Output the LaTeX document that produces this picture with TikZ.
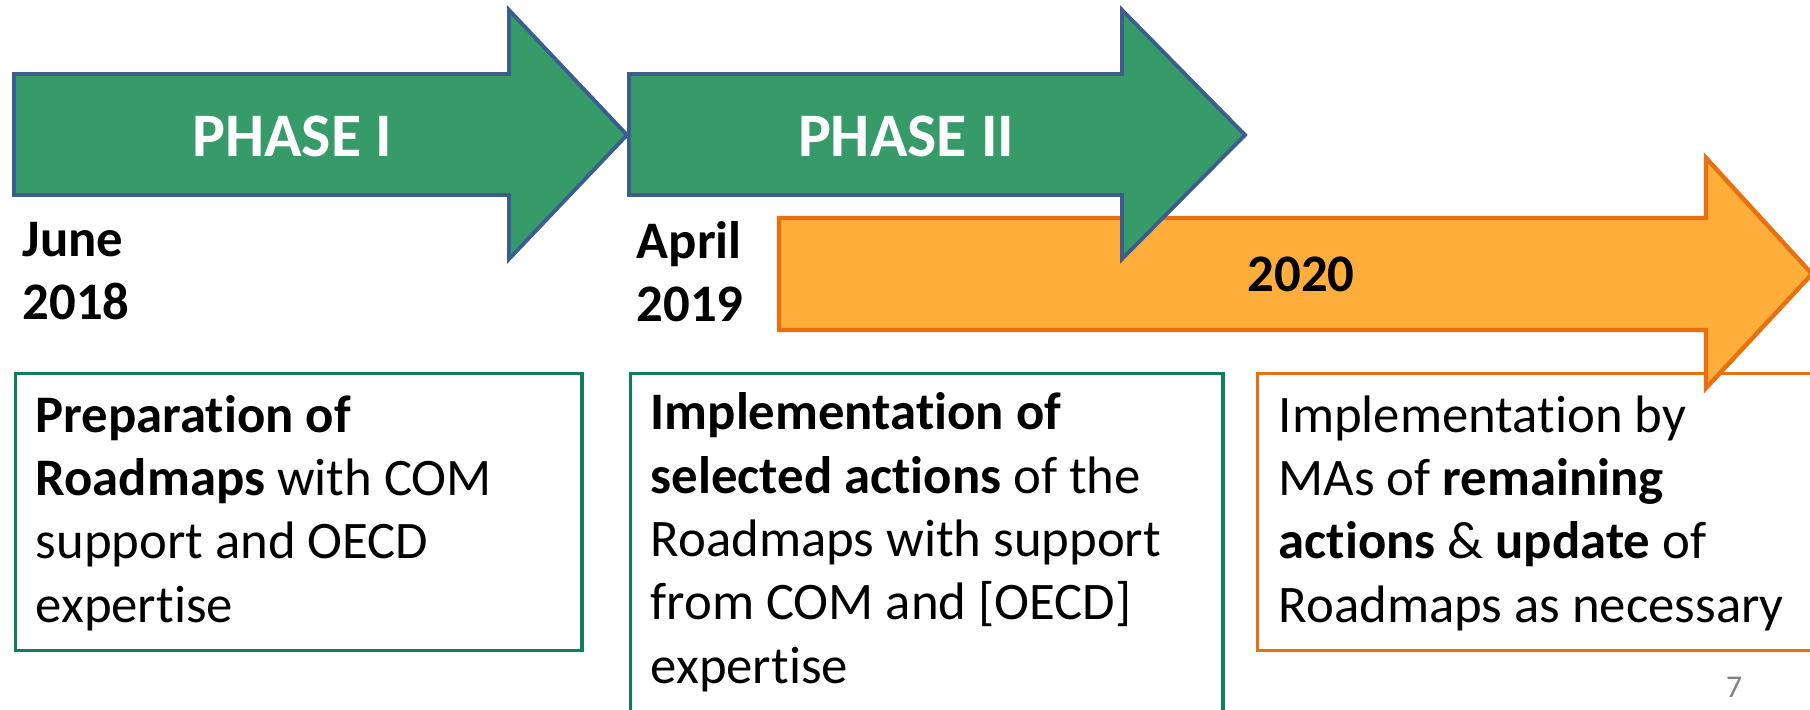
\documentclass[tikz,border=0pt]{standalone}
\usepackage{fontspec}
\setmainfont[Ligatures=NoCommon]{Carlito}
\usepackage{tikz}
\usetikzlibrary{positioning}
\definecolor{PhaseGreen}{RGB}{55,154,105}
\definecolor{PhaseBlue}{RGB}{58,95,143}
\definecolor{BoxGreen}{RGB}{14,127,90}
\definecolor{LaterOrange}{RGB}{232,112,15}
\definecolor{LaterFill}{RGB}{255,174,60}
\tikzset{
  every node/.style={
    font=\fontsize{15}{18}\selectfont,
    inner sep=0pt
  },
  phase arrow/.style={
    fill=PhaseGreen,
    draw=PhaseBlue,
    line width=1.1pt
  },
  later arrow/.style={
    fill=LaterFill,
    draw=LaterOrange,
    line width=1.25pt
  },
  phase label/.style={
    font=\fontsize{17.6}{21}\selectfont\bfseries,
    text=white,
    anchor=base
  },
  date/.style={
    font=\fontsize{15}{18}\selectfont\bfseries,
    align=left,
    anchor=base west
  },
  textbox/.style n args={2}{
    draw=#1,
    line width=0.9pt,
    anchor=north west,
    minimum width=#2,
    minimum height=2.77cm
  },
  boxtext/.style={
    align=left,
    anchor=base west
  }
}

\begin{document}
\begin{tikzpicture}[x=0.01cm,y=-0.01cm]
    \clip (0,0) rectangle (1810,710);
    \node [textbox={BoxGreen}{5.66cm}] (prep) at (14,372) {};
    \node [textbox={BoxGreen}{5.92cm}, minimum height=4cm] (impl) at (629,372) {};
    \node [textbox={LaterOrange}{6cm}] (rest) at (1256,372) {};
    % anchors sit on the last baseline of each block
    \node [boxtext] (preptext) at ([shift={(21,250)}]prep.north west)
      {\textbf{Preparation of}\\ \textbf{Roadmaps} with COM\\ support and OECD\\ expertise};
    \node [boxtext] (impltext) at ([shift={(21,311)}]impl.north west)
      {\textbf{Implementation of}\\ \textbf{selected actions} of the\\ Roadmaps with support\\ from COM and [OECD]\\ expertise};
    \node [boxtext] (resttext) at ([shift={(22,250)}]rest.north west)
      {Implementation by\\ MAs of \textbf{remaining}\\ \textbf{actions} \& \textbf{update} of\\ Roadmaps as necessary};
    \draw [later arrow] (779,218) -- (1706,218) -- (1706,158) -- (1812,274)
      -- (1706,388) -- (1706,330) -- (779,330) -- cycle;
    \draw [phase arrow] (14,74) -- (509,74) -- (509,10) -- (627,135)
      -- (509,259) -- (509,195) -- (14,195) -- cycle;
    \draw [phase arrow] (629,74) -- (1122,74) -- (1122,10) -- (1245,135)
      -- (1122,259) -- (1122,195) -- (629,195) -- cycle;
    \node [phase label] (phase1) at (292,157) {PHASE I};
    \node [phase label] (phase2) at (906,157) {PHASE II};
    \node [date] (start1) at (22,320) {June\\2018};
    \node [date] (start2) at (636,322) {April\\2019};
    \node [date, anchor=base] (later) at (1301,292) {2020};
    \node [font=\fontsize{9}{11}\selectfont, text=gray, anchor=base] (page) at (1734,697) {7};
\end{tikzpicture}
\end{document}
